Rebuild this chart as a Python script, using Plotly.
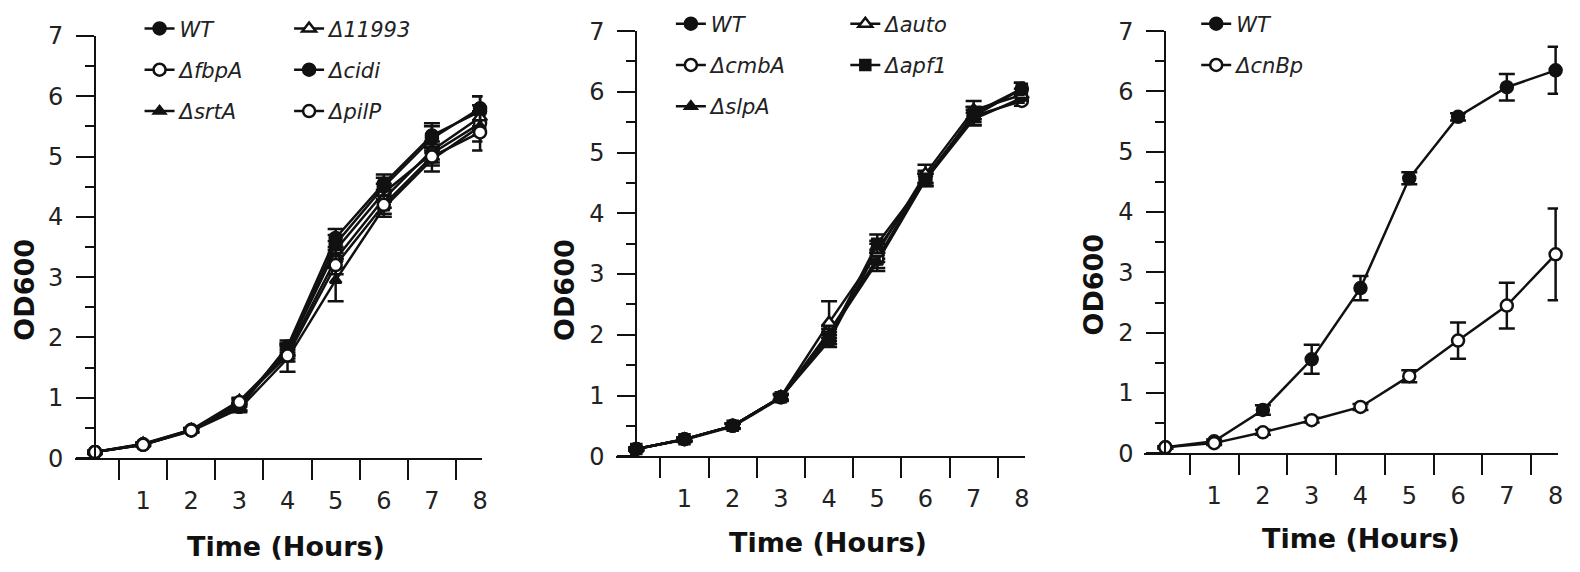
import plotly.graph_objects as go

# ---------------- data ----------------
hours = [0, 1, 2, 3, 4, 5, 6, 7, 8]
x_tick_labels = ["1", "2", "3", "4", "5", "6", "7", "8"]
x_tick_vals = [1, 2, 3, 4, 5, 6, 7, 8]
x_mark_vals = [0.5, 1.5, 2.5, 3.5, 4.5, 5.5, 6.5, 7.5]

# Panel A
a_names = ["WT", "ΔfbpA", "ΔsrtA", "Δ11993", "Δcidi", "ΔpilP"]
a_wt     = [0.10, 0.23, 0.47, 0.85, 1.85, 3.65, 4.55, 5.35, 5.75]
a_fbpA   = [0.10, 0.22, 0.46, 0.90, 1.80, 3.45, 4.40, 5.05, 5.55]
a_srtA   = [0.10, 0.22, 0.45, 0.82, 1.65, 2.95, 4.15, 4.95, 5.50]
a_11993  = [0.10, 0.24, 0.47, 0.95, 1.75, 3.30, 4.30, 5.10, 5.65]
a_cidi   = [0.10, 0.23, 0.46, 0.85, 1.80, 3.55, 4.50, 5.30, 5.80]
a_pilP   = [0.10, 0.22, 0.46, 0.93, 1.70, 3.20, 4.20, 5.00, 5.40]
a_wt_err    = [0.02, 0.02, 0.03, 0.06, 0.10, 0.15, 0.15, 0.20, 0.25]
a_fbpA_err  = [0.02, 0.02, 0.03, 0.05, 0.10, 0.15, 0.15, 0.15, 0.20]
a_srtA_err  = [0.02, 0.02, 0.03, 0.06, 0.22, 0.35, 0.15, 0.20, 0.25]
a_11993_err = [0.02, 0.02, 0.03, 0.05, 0.10, 0.15, 0.15, 0.15, 0.20]
a_cidi_err  = [0.02, 0.02, 0.03, 0.06, 0.10, 0.15, 0.15, 0.20, 0.20]
a_pilP_err  = [0.02, 0.02, 0.03, 0.05, 0.10, 0.15, 0.15, 0.15, 0.30]

# Panel B
b_names = ["WT", "ΔcmbA", "ΔslpA", "Δauto", "Δapf1"]
b_wt    = [0.12, 0.28, 0.50, 0.97, 1.90, 3.40, 4.55, 5.60, 6.05]
b_cmbA  = [0.12, 0.28, 0.50, 0.97, 2.05, 3.25, 4.60, 5.60, 5.85]
b_slpA  = [0.12, 0.27, 0.49, 0.96, 2.00, 3.20, 4.55, 5.55, 5.90]
b_auto  = [0.12, 0.28, 0.50, 0.98, 2.20, 3.35, 4.65, 5.70, 5.95]
b_apf1  = [0.12, 0.28, 0.50, 0.97, 1.95, 3.50, 4.55, 5.65, 6.05]
b_wt_err   = [0.02, 0.03, 0.04, 0.05, 0.10, 0.15, 0.10, 0.15, 0.10]
b_cmbA_err = [0.02, 0.03, 0.04, 0.05, 0.10, 0.15, 0.10, 0.10, 0.08]
b_slpA_err = [0.02, 0.03, 0.04, 0.05, 0.10, 0.15, 0.10, 0.10, 0.08]
b_auto_err = [0.02, 0.03, 0.04, 0.05, 0.35, 0.15, 0.15, 0.15, 0.10]
b_apf1_err = [0.02, 0.03, 0.04, 0.05, 0.10, 0.15, 0.10, 0.10, 0.10]

# Panel C
c_names = ["WT", "ΔcnBp"]
c_wt    = [0.10, 0.20, 0.72, 1.56, 2.74, 4.56, 5.58, 6.07, 6.35]
c_cnBp  = [0.10, 0.17, 0.35, 0.55, 0.77, 1.28, 1.87, 2.45, 3.30]
c_wt_err   = [0.02, 0.03, 0.08, 0.24, 0.20, 0.10, 0.06, 0.22, 0.39]
c_cnBp_err = [0.02, 0.03, 0.04, 0.04, 0.05, 0.10, 0.30, 0.38, 0.76]

# ---------------- styling ----------------
W, H = 1580, 572
BLACK = "#111111"
TICKFONT = dict(family="DejaVu Sans", size=24, color="#222222")
LEGFONT = dict(family="DejaVu Sans", size=21, color="#222222", style="italic")
TITLEFONT = dict(family="DejaVu Sans", size=27, color=BLACK, weight="bold")

# panel geometry (pixels)
panels = [
    dict(x0=75, x1=484, r=(-0.42, 8.05), ybot=467, ytop=23),
    dict(x0=618, x1=1028, r=(-0.42, 8.06), ybot=465, ytop=18),
    dict(x0=1148, x1=1563, r=(-0.43, 8.05), ybot=462, ytop=18),
]

fig = go.Figure()

def add_series(ax, y, err, name, symbol, filled, legend, size=12):
    xa = "x" if ax == 1 else f"x{ax}"
    ya = "y" if ax == 1 else f"y{ax}"
    fig.add_trace(go.Scatter(
        x=hours, y=y, name=name, mode="lines+markers",
        xaxis=xa, yaxis=ya, legend=legend, legendgroup=f"{ax}{name}",
        line=dict(color=BLACK, width=2.5),
        marker=dict(symbol=symbol, size=size,
                    color=BLACK if filled else "white",
                    line=dict(color=BLACK, width=2.5)),
        error_y=dict(type="data", array=err, color=BLACK, thickness=2.5, width=8),
        cliponaxis=False,
    ))

# Panel A
add_series(1, a_wt, a_wt_err, a_names[0], "circle", True, "legend")
add_series(1, a_fbpA, a_fbpA_err, a_names[1], "circle", False, "legend")
add_series(1, a_srtA, a_srtA_err, a_names[2], "triangle-up", True, "legend", 10)
add_series(1, a_11993, a_11993_err, a_names[3], "triangle-up", False, "legend2")
add_series(1, a_cidi, a_cidi_err, a_names[4], "circle", True, "legend2")
add_series(1, a_pilP, a_pilP_err, a_names[5], "circle", False, "legend2")
# Panel B
add_series(2, b_wt, b_wt_err, b_names[0], "circle", True, "legend3")
add_series(2, b_cmbA, b_cmbA_err, b_names[1], "circle", False, "legend3")
add_series(2, b_slpA, b_slpA_err, b_names[2], "triangle-up", True, "legend3", 10)
add_series(2, b_auto, b_auto_err, b_names[3], "triangle-up", False, "legend4")
add_series(2, b_apf1, b_apf1_err, b_names[4], "square", True, "legend4", 10)
# Panel C
add_series(3, c_wt, c_wt_err, c_names[0], "circle", True, "legend5")
add_series(3, c_cnBp, c_cnBp_err, c_names[1], "circle", False, "legend5")

layout = dict(
    width=W, height=H, margin=dict(l=0, r=0, t=0, b=0),
    paper_bgcolor="white", plot_bgcolor="white",
)

for i, p in enumerate(panels, start=1):
    d0, d1 = p["x0"] / W, p["x1"] / W
    r0, r1 = p["r"]
    ypos = d0 + (0 - r0) / (r1 - r0) * (d1 - d0)
    ydom = [1 - p["ybot"] / H, 1 - p["ytop"] / H]
    sx = "" if i == 1 else str(i)
    layout[f"xaxis{sx}"] = dict(
        domain=[d0, d1], range=[r0, r1], anchor=f"y{sx}",
        showgrid=False, zeroline=False,
        showline=True, linecolor=BLACK, linewidth=2,
        tickmode="array", tickvals=x_tick_vals, ticktext=x_tick_labels,
        ticks="outside", ticklen=20, tickcolor="rgba(0,0,0,0)",
        minor=dict(tickmode="array", tickvals=x_mark_vals, ticks="outside",
                   ticklen=20, tickwidth=2, tickcolor=BLACK),
        tickfont=TICKFONT,
    )
    layout[f"yaxis{sx}"] = dict(
        domain=ydom, range=[0, 7], anchor="free", position=ypos,
        showgrid=False, zeroline=False,
        showline=True, linecolor=BLACK, linewidth=2,
        tickmode="linear", tick0=0, dtick=1,
        ticks="outside", ticklen=18, tickwidth=2, tickcolor=BLACK,
        minor=dict(tickmode="linear", tick0=0, dtick=0.5, ticks="outside",
                   ticklen=9, tickwidth=2, tickcolor=BLACK),
        tickfont=TICKFONT, ticklabelstandoff=8,
    )

# legends (one per column)
leg_pos = [("legend", 140, -6), ("legend2", 290, -6),
           ("legend3", 673, -11), ("legend4", 848, -11),
           ("legend5", 1200, -11)]
for key, px, py in leg_pos:
    layout[key] = dict(
        x=px / W, y=1 - py / H, xanchor="left", yanchor="top",
        bgcolor="rgba(0,0,0,0)", borderwidth=0, font=LEGFONT,
        tracegroupgap=11, itemwidth=30,
    )

annotations = []
ytitle_x = [25, 567, 1097]
ytitle_y = [290, 290, 285]
xtitle_x = [287, 831, 1365]
xtitle_y = [560, 556, 551]
for i in range(3):
    annotations.append(dict(text="OD600", xref="paper", yref="paper",
                            x=ytitle_x[i] / W, y=1 - ytitle_y[i] / H,
                            textangle=-90, showarrow=False, font=TITLEFONT,
                            xanchor="center", yanchor="middle"))
    annotations.append(dict(text="Time (Hours)", xref="paper", yref="paper",
                            x=xtitle_x[i] / W, y=1 - xtitle_y[i] / H,
                            showarrow=False, font=TITLEFONT,
                            xanchor="center", yanchor="middle"))
layout["annotations"] = annotations
layout["showlegend"] = True

fig.update_layout(**layout)
fig.write_html("out.html")
